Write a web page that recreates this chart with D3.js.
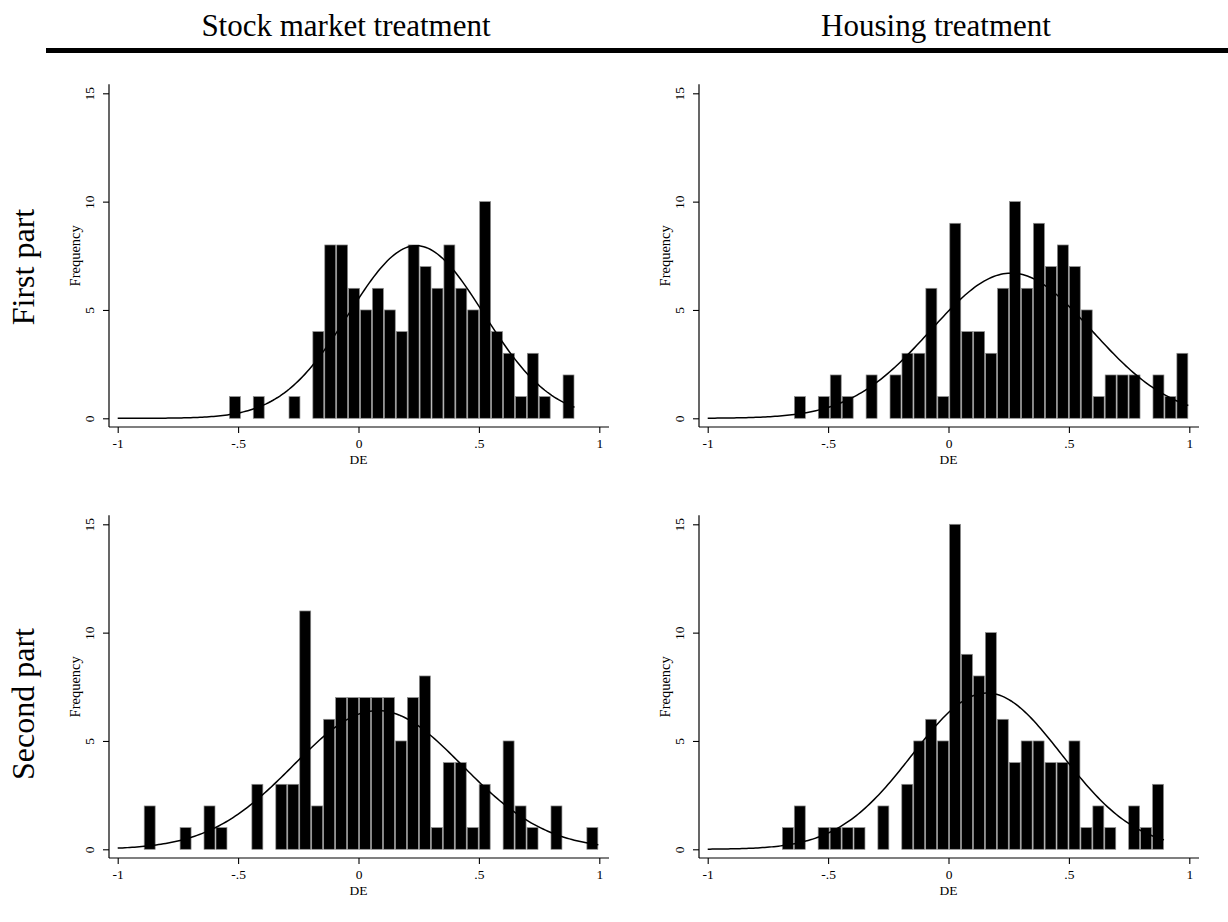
<!DOCTYPE html>
<html>
<head>
<meta charset="utf-8">
<script src="https://cdn.jsdelivr.net/npm/d3@7"></script>
<style>
  body { margin: 0; background: #fff; }
  svg { display: block; font-family: "Liberation Serif", "Times New Roman", serif; }
</style>
</head>
<body>
<div id="chart"></div>
<script>
    // column / row headings
    var colTitles = ["Stock market treatment", "Housing treatment"];
    var rowTitles = ["First part", "Second part"];

    var xTicks = [-1, -0.5, 0, 0.5, 1];
    var xTickLabels = ["-1", "-.5", "0", ".5", "1"];
    var yTicks = [0, 5, 10, 15];

    // panels in order: stock/first, housing/first, stock/second, housing/second
    var binStart = [-0.538, -0.642, -0.892, -0.692];
    var binEnd = [0.897, 0.996, 0.996, 0.895];

    var countsStockFirst = [1, 0, 1, 0, 0, 1, 0, 4, 8, 8, 6, 5, 6, 5, 4, 8, 7, 6, 8, 6, 5, 10, 4, 3, 1, 3, 1, 0, 2];
    var countsHousingFirst = [1, 0, 1, 2, 1, 0, 2, 0, 2, 3, 3, 6, 1, 9, 4, 4, 3, 6, 10, 6, 9, 7, 8, 7, 5, 1, 2, 2, 2, 0, 2, 1, 3];
    var countsStockSecond = [2, 0, 0, 1, 0, 2, 1, 0, 0, 3, 0, 3, 3, 11, 2, 6, 7, 7, 7, 7, 7, 5, 7, 8, 1, 4, 4, 1, 3, 0, 5, 2, 1, 0, 2, 0, 0, 1];
    var countsHousingSecond = [1, 2, 0, 1, 1, 1, 1, 0, 2, 0, 3, 5, 6, 5, 15, 9, 8, 10, 6, 4, 5, 5, 4, 4, 5, 1, 2, 1, 0, 2, 1, 3];

    // fitted normal overlay (mean, sd)
    var normalMean = [0.24, 0.26, 0.08, 0.16];
    var normalSd = [0.28, 0.334, 0.35, 0.31];

    var allCounts = [countsStockFirst, countsHousingFirst, countsStockSecond, countsHousingSecond];

    var W = 1228, H = 922;
    var serif = "Liberation Serif, Times New Roman, serif";
    var svg = d3.select("#chart").append("svg")
        .attr("width", W)
        .attr("height", H)
        .style("background", "white");

    // headings
    var colX = [346, 936];
    svg.selectAll(".coltitle").data(colTitles).enter().append("text")
        .attr("class", "coltitle")
        .attr("x", function (d, i) { return colX[i]; })
        .attr("y", 36)
        .attr("text-anchor", "middle")
        .style("font-size", "31px")
        .text(function (d) { return d; });

    svg.append("line")
        .attr("x1", 46).attr("x2", W)
        .attr("y1", 50.5).attr("y2", 50.5)
        .attr("stroke", "#000")
        .attr("stroke-width", 5);

    var rowY = [267, 704];
    svg.selectAll(".rowtitle").data(rowTitles).enter().append("text")
        .attr("class", "rowtitle")
        .attr("transform", function (d, i) { return "translate(34," + rowY[i] + ") rotate(-90)"; })
        .attr("text-anchor", "middle")
        .style("font-size", "32px")
        .text(function (d) { return d; });

    var panelDx = [0, 590, 0, 590];
    var panelDy = [0, 0, 431, 431];

    allCounts.forEach(function (counts, p) {
        var g = svg.append("g")
            .attr("transform", "translate(" + panelDx[p] + "," + panelDy[p] + ")");

        var x = d3.scaleLinear().domain([-1, 1]).range([117.7, 599.3]);
        var y = d3.scaleLinear().domain([0, 15]).range([418.3, 93.3]);
        var axisLeftX = 109, axisBottomY = 427;

        var bw = (binEnd[p] - binStart[p]) / counts.length;
        var bins = counts.map(function (c, i) {
            return { x0: binStart[p] + i * bw, x1: binStart[p] + (i + 1) * bw, n: c };
        }).filter(function (b) { return b.n > 0; });

        g.selectAll("rect.bar").data(bins).enter().append("rect")
            .attr("class", "bar")
            .attr("x", function (d) { return x(d.x0) + 0.5; })
            .attr("width", function (d) { return x(d.x1) - x(d.x0) - 1; })
            .attr("y", function (d) { return y(d.n); })
            .attr("height", function (d) { return y(0) - y(d.n); })
            .attr("fill", "#000")
            .attr("stroke", "#8c8c8c")
            .attr("stroke-width", 0.7);

        // normal density scaled to frequency
        var n = d3.sum(counts);
        var mu = normalMean[p], sd = normalSd[p];
        var curve = d3.range(0, 201).map(function (i) {
            var xv = -1 + (binEnd[p] + 1) * i / 200;
            var z = (xv - mu) / sd;
            return [xv, n * bw * Math.exp(-0.5 * z * z) / (sd * Math.sqrt(2 * Math.PI))];
        });
        g.append("path")
            .datum(curve)
            .attr("fill", "none")
            .attr("stroke", "#000")
            .attr("stroke-width", 1.5)
            .attr("d", d3.line().x(function (d) { return x(d[0]); }).y(function (d) { return y(d[1]); }));

        // x axis
        var xa = g.append("g")
            .attr("transform", "translate(0," + axisBottomY + ")")
            .call(d3.axisBottom(x).tickValues(xTicks).tickSize(6).tickSizeOuter(0)
                .tickFormat(function (d, i) { return xTickLabels[i]; }));
        xa.select(".domain").remove();
        xa.append("line").attr("x1", axisLeftX).attr("x2", 609).attr("stroke", "#000").attr("stroke-width", 1.2);
        xa.selectAll(".tick line").attr("stroke-width", 1.1);
        xa.selectAll(".tick text")
            .attr("y", 21).attr("dy", 0)
            .attr("font-family", serif)
            .attr("font-size", 13.5)
            .attr("fill", "#000");

        g.append("text")
            .attr("x", x(0)).attr("y", 463.5)
            .attr("text-anchor", "middle")
            .style("font-size", "13.5px")
            .text("DE");

        // y axis
        var ya = g.append("g")
            .attr("transform", "translate(" + axisLeftX + ",0)")
            .call(d3.axisLeft(y).tickValues(yTicks).tickSize(6).tickSizeOuter(0));
        ya.select(".domain").remove();
        ya.append("line").attr("y1", 84.3).attr("y2", axisBottomY).attr("stroke", "#000").attr("stroke-width", 1.2);
        ya.selectAll(".tick line").attr("stroke-width", 1.1);
        ya.selectAll(".tick text")
            .attr("transform", "rotate(-90)")
            .attr("x", 0).attr("y", -15).attr("dy", 0)
            .attr("text-anchor", "middle")
            .attr("font-family", serif)
            .attr("font-size", 13.5)
            .attr("fill", "#000");

        g.append("text")
            .attr("transform", "translate(80," + ((y(0) + y(15)) / 2) + ") rotate(-90)")
            .attr("text-anchor", "middle")
            .style("font-size", "14.5px")
            .text("Frequency");
    });
</script>
</body>
</html>
